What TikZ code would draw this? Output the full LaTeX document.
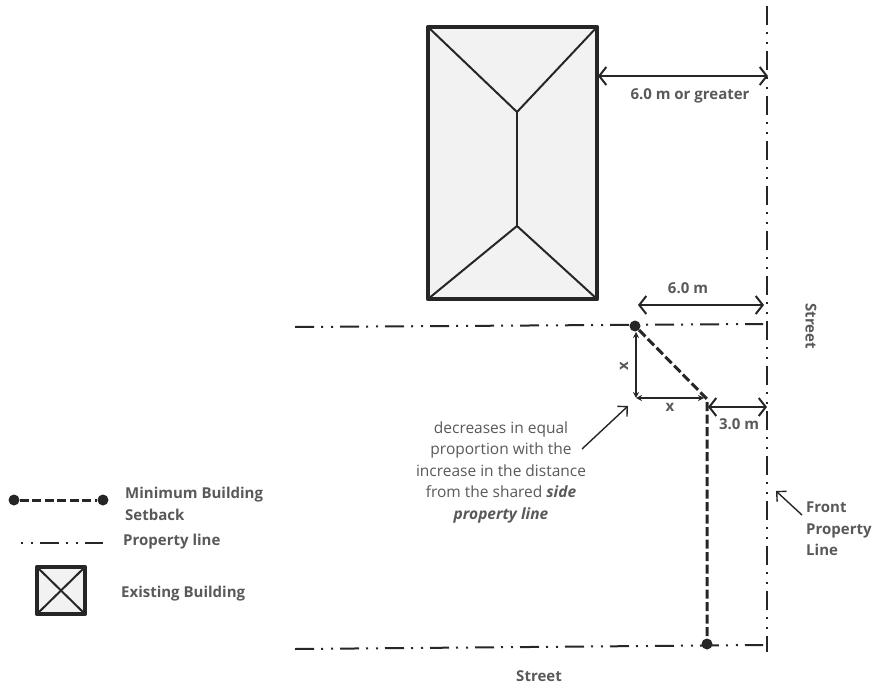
\documentclass[tikz,border=0pt]{standalone}
\usepackage{fontspec}
\setmainfont{Open Sans}
\usepackage{xcolor}
\usetikzlibrary{arrows.meta}
\definecolor{labelgrey}{HTML}{595959}
\definecolor{linegrey}{HTML}{262626}
\definecolor{roofgrey}{HTML}{F2F2F2}
\tikzset{
  propline/.style={draw=linegrey,line width=2pt,dash pattern=on 19pt off 7pt on 2pt off 8pt on 2pt off 7pt},
  setback/.style={draw=linegrey,line width=3pt,dash pattern=on 9pt off 3.5pt},
  wall/.style={draw=linegrey,fill=roofgrey,line width=4.5pt,line join=round},
  ridge/.style={draw=linegrey,line width=2pt},
  dimbig/.style={draw=linegrey,line width=2pt,{Straight Barb[length=7pt,width=18pt]}-{Straight Barb[length=7pt,width=18pt]}},
  dimsmall/.style={draw=linegrey,line width=1.5pt,{Stealth[length=6pt,width=6pt]}-{Stealth[length=6pt,width=6pt]}},
  pointer/.style={draw=linegrey,line width=1.4pt,-{Straight Barb[length=7pt,width=14pt]}},
  label/.style={text=labelgrey,font=\fontsize{15pt}{21.5pt}\selectfont\bfseries,inner sep=0pt},
  note/.style={text=labelgrey,font=\fontsize{15.5pt}{21.5pt}\selectfont,inner sep=0pt,align=center},
  knob/.style={circle,fill=linegrey,inner sep=0pt,minimum size=11pt}
}
\begin{document}
\begin{tikzpicture}[x=1pt,y=-1pt]
\useasboundingbox (0,0) rectangle (874,687);
% building
\draw[wall] (428,27) rectangle (597,299);
\coordinate (ridgetop) at (517,112);
\coordinate (ridgelow) at (517,226);
\draw[ridge] (428,27) -- (ridgetop) -- (597,27);
\draw[ridge] (ridgetop) -- (ridgelow);
\draw[ridge] (428,299) -- (ridgelow) -- (597,299);
% property lines
\draw[propline] (767,6) -- (767,652);
\draw[propline] (295,327) -- (763,324);
\draw[propline] (295,649) -- (763,645);
% setback
\node[knob] (sbtop) at (635,326) {};
\coordinate (sbmid) at (707,399);
\node[knob] (sbend) at (707,644) {};
\draw[setback] (sbtop) -- (sbmid) -- (sbend);
% dimensions
\coordinate (wallpt) at (598,76);
\coordinate (linept) at (768,76);
\draw[dimbig] (wallpt) -- (linept);
\node[label] (greater) at (690,96) {6.0 m or greater};
\coordinate (sixa) at (638,305);
\coordinate (sixb) at (764,305);
\draw[dimbig] (sixa) -- (sixb);
\node[label] (sixm) at (688,288) {6.0 m};
\coordinate (threea) at (708,407);
\coordinate (threeb) at (767,407);
\draw[dimbig] (threea) -- (threeb);
\node[label] (threem) at (739,424) {3.0 m};
% the x triangle
\coordinate (xtop) at (636,332);
\coordinate (xcorner) at (636,398);
\coordinate (xright) at (704,398);
\draw[dimsmall] (xtop) -- (xcorner);
\draw[dimsmall] (xcorner) -- (xright);
\node[label,rotate=90] (xleft) at (624,366) {x};
\node[label] (xlow) at (670,407) {x};
% labels
\node[label,rotate=-90] (streetright) at (811,326) {Street};
\node[label] (streetlow) at (539,676) {Street};
\node[note] (decr) at (501,472) {decreases in equal\\proportion with the\\increase in the distance\\from the shared \textbf{\textit{side}}\\\textbf{\textit{property line}}};
\coordinate (decrtip) at (628,406);
\coordinate (decrfoot) at (582,449);
\draw[pointer] (decrfoot) -- (decrtip);
\node[label,align=left,anchor=west] (front) at (806,529) {Front\\Property\\Line};
\coordinate (fronttip) at (776,491);
\coordinate (frontfoot) at (802,515);
\draw[pointer] (frontfoot) -- (fronttip);
% legend
\node[knob] (lega) at (14,500) {};
\node[knob] (legb) at (103,500) {};
\draw[setback] (lega) -- (legb);
\node[label,align=left,anchor=north west] (legsetback) at (125,487) {Minimum Building\\Setback};
\coordinate (lpa) at (21,543);
\coordinate (lpb) at (103,543);
\draw[draw=linegrey,line width=2pt,dash pattern=on 2pt off 8pt on 2pt off 7pt on 19pt off 7pt] (lpa) -- (lpb);
\node[label,anchor=west] (legprop) at (123,542) {Property line};
\draw[wall] (37,567) rectangle (85,614);
\draw[ridge] (37,567) -- (85,614);
\draw[ridge] (85,567) -- (37,614);
\node[label,anchor=west] (legbuild) at (121,594) {Existing Building};
\end{tikzpicture}
\end{document}
